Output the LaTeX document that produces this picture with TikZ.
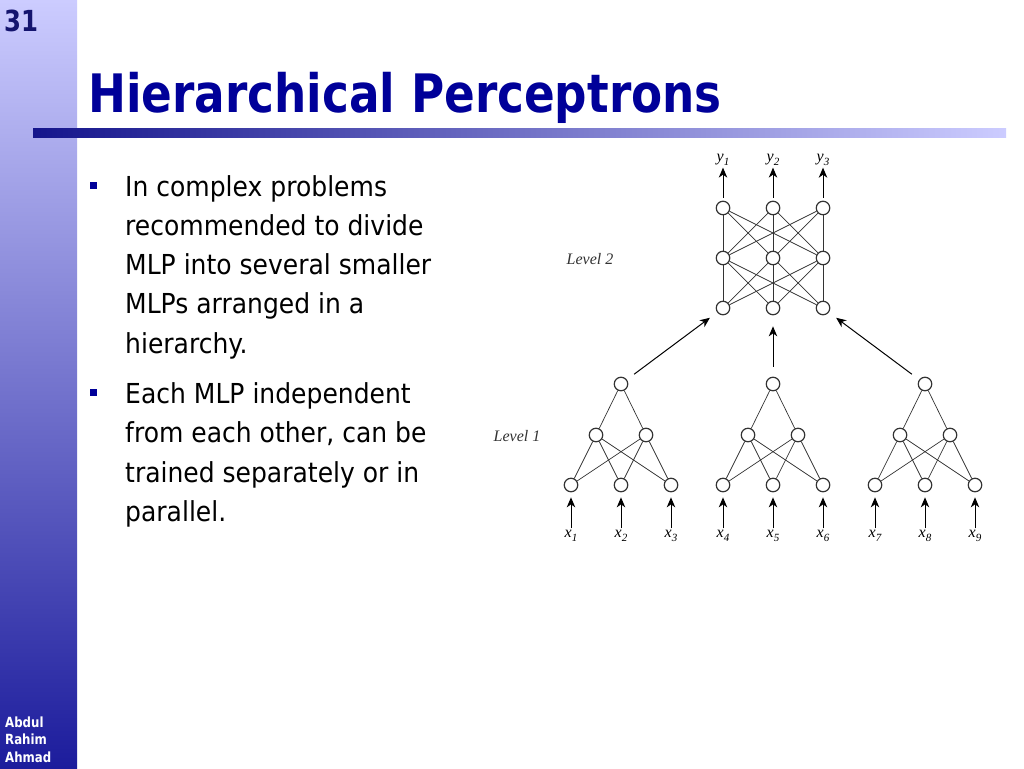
\documentclass[tikz,border=0pt]{standalone}
\usepackage{fontspec}
\usetikzlibrary{arrows.meta}
\setmainfont{DejaVu Sans}
\newfontfamily\titlefont[FakeStretch=0.855]{DejaVu Sans}
\newfontfamily\numfont[FakeStretch=0.84]{DejaVu Sans}
\newfontfamily\bodyfont[FakeStretch=0.91]{DejaVu Sans}
\newfontfamily\serifit{Liberation Serif}
\definecolor{navy}{HTML}{000099}
\definecolor{numnavy}{HTML}{14146E}
\definecolor{lav}{HTML}{CCCCFF}
\definecolor{sidebot}{HTML}{1C1C9C}
\definecolor{bardark}{HTML}{15158C}
\definecolor{linegray}{HTML}{333333}
\newcommand{\lab}[2]{{\serifit\itshape #1\raisebox{-3.5pt}{\fontsize{11}{11}\selectfont #2}}}
\tikzset{
  neuron/.style={circle, draw=linegray, line width=1.2pt, minimum size=13.5pt, inner sep=0pt, fill=white},
  conn/.style={draw=linegray, line width=0.7pt},
  arr/.style={-{Stealth[length=10pt,width=8.5pt,inset=3pt]}, line width=1pt, draw=black},
  bodytext/.style={anchor=base west, inner sep=0pt, font=\bodyfont\fontsize{27.5}{27.5}\selectfont, text=black},
  iolabel/.style={inner sep=1pt, font=\serifit\itshape\fontsize{16}{16}\selectfont},
  levellabel/.style={inner sep=0pt, font=\serifit\itshape\fontsize{16}{16}\selectfont, text=linegray}
}
\begin{document}
\begin{tikzpicture}[x=1pt,y=-1pt]
\useasboundingbox (0,0) rectangle (1024,768);
\fill[white] (0,0) rectangle (1024,768);
% sidebar
\shade[top color=lav, bottom color=sidebot] (0,0) rectangle (77,768);
% bar
\shade[left color=bardark, right color=lav] (33,128) rectangle (1006,137);
% slide number
\node[anchor=base west, inner sep=0pt, text=numnavy, font=\numfont\bfseries\fontsize{29}{29}\selectfont] (num) at (4,32) {31};
% author
\node[anchor=base west, inner sep=0pt, text=white, font=\numfont\bfseries\fontsize{14}{14}\selectfont] (au1) at (5,727) {Abdul};
\node[anchor=base west, inner sep=0pt, text=white, font=\numfont\bfseries\fontsize{14}{14}\selectfont] (au2) at (5,744.5) {Rahim};
\node[anchor=base west, inner sep=0pt, text=white, font=\numfont\bfseries\fontsize{14}{14}\selectfont] (au3) at (5,762) {Ahmad};
% title
\node[anchor=base west, inner sep=0pt, text=navy, font=\titlefont\bfseries\fontsize{53}{53}\selectfont] (title) at (88,112) {Hierarchical Perceptrons};
% bullets
\fill[navy] (90,182) rectangle (97,189);
\fill[navy] (90,389) rectangle (97,396);
\node[bodytext] (l1) at (125,196) {In complex problems};
\node[bodytext] (l2) at (125,235.3) {recommended to divide};
\node[bodytext] (l3) at (125,274.6) {MLP into several smaller};
\node[bodytext] (l4) at (125,313.9) {MLPs arranged in a};
\node[bodytext] (l5) at (125,353.2) {hierarchy.};
\node[bodytext] (l6) at (125,403) {Each MLP independent};
\node[bodytext] (l7) at (125,442.5) {from each other, can be};
\node[bodytext] (l8) at (125,482) {trained separately or in};
\node[bodytext] (l9) at (125,521.5) {parallel.};
% level labels
\node[levellabel] (lev2) at (590,259) {Level 2};
\node[levellabel] (lev1) at (517,436) {Level 1};
% level 2 network
\foreach \i/\x in {1/723,2/773,3/823} {
  \node[neuron] (t\i) at (\x,208) {};
  \node[neuron] (m\i) at (\x,258) {};
  \node[neuron] (b\i) at (\x,308) {};
}
\foreach \i in {1,2,3} \foreach \j in {1,2,3} {
  \draw[conn] (t\i) -- (m\j);
  \draw[conn] (m\i) -- (b\j);
}
% outputs
\foreach \i/\x in {1/723,2/773,3/823} {
  \node[iolabel] (y\i) at (\x,160) {\lab{y}{\i}};
  \draw[arr, shorten <=3pt, shorten >=1pt] (t\i) -- (y\i);
}
% level 1 networks
\foreach \g/\c in {1/621,2/773,3/925} {
  \node[neuron] (a\g) at (\c,384) {};
  \node[neuron] (h\g1) at (\c-25,435) {};
  \node[neuron] (h\g2) at (\c+25,435) {};
  \node[neuron] (i\g1) at (\c-50,485) {};
  \node[neuron] (i\g2) at (\c,485) {};
  \node[neuron] (i\g3) at (\c+50,485) {};
  \draw[conn] (a\g) -- (h\g1);
  \draw[conn] (a\g) -- (h\g2);
  \foreach \k in {1,2} \foreach \j in {1,2,3} {
    \draw[conn] (h\g\k) -- (i\g\j);
  }
}
% inputs
\foreach \g/\c/\n in {1/621/0,2/773/3,3/925/6} {
  \foreach \j/\dx in {1/-50,2/0,3/50} {
    \pgfmathtruncatemacro{\idx}{\n+\j}
    \node[iolabel] (x\g\j) at (\c+\dx,536) {\lab{x}{\idx}};
    \draw[arr, shorten >=5pt, shorten <=1pt] (x\g\j) -- (i\g\j);
  }
}
% level 1 to level 2
\draw[arr, shorten <=9pt, shorten >=9pt] (a1) -- (b1);
\draw[arr, shorten <=10pt, shorten >=11pt] (a2) -- (b2);
\draw[arr, shorten <=9pt, shorten >=9pt] (a3) -- (b3);
\end{tikzpicture}
\end{document}
